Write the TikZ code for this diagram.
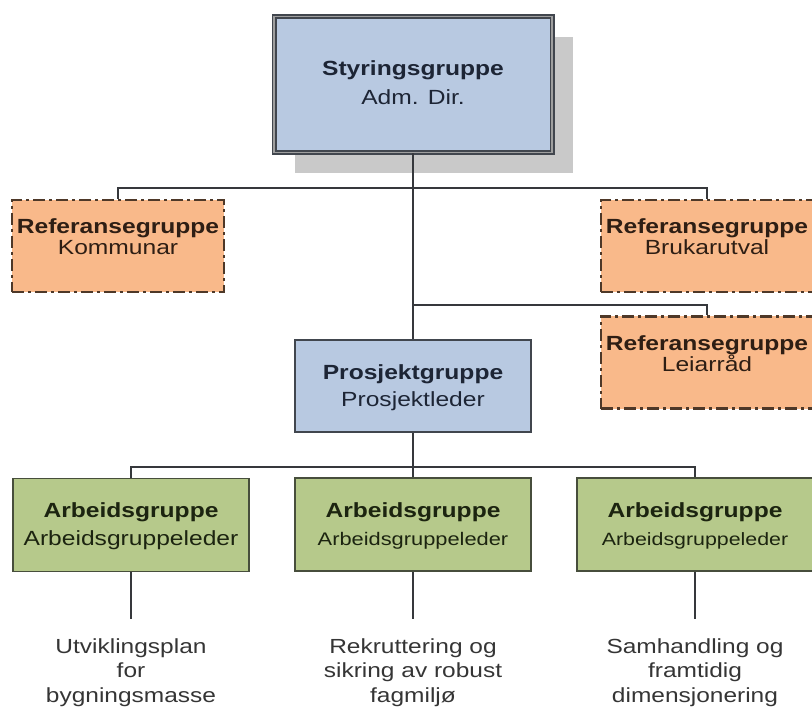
\documentclass[tikz,border=0pt]{standalone}
\usepackage{fontspec}
\setmainfont{Liberation Sans}[FakeStretch=1.2]
\usetikzlibrary{shadows}

\definecolor{bluefill}{HTML}{B8C9E1}
\definecolor{blueline}{HTML}{41464E}
\definecolor{orangefill}{HTML}{F9B98A}
\definecolor{orangeline}{HTML}{4E3828}
\definecolor{greenfill}{HTML}{B6C98B}
\definecolor{greenline}{HTML}{474E3C}
\definecolor{shadowgray}{HTML}{C9C9C9}
\definecolor{wirecol}{HTML}{36383C}
\definecolor{bluetext}{HTML}{1D2535}
\definecolor{orangetext}{HTML}{2E1E14}
\definecolor{greentext}{HTML}{1C2410}
\definecolor{notetext}{HTML}{353535}

\tikzset{
  boxfont/.style={font=\fontsize{20.5pt}{#1}\selectfont},
  headbox/.style={draw=blueline, double=gray!75, line width=1.6pt, double distance=1.8pt,
    fill=bluefill, text=bluetext, minimum width=278pt, minimum height=136pt,
    align=center, inner sep=0pt, text depth=4pt, boxfont=29pt,
    drop shadow={shadow xshift=21pt, shadow yshift=-21pt, fill=shadowgray, opacity=1}},
  bluebox/.style={draw=blueline, line width=1.7pt, fill=bluefill, text=bluetext,
    minimum width=236pt, minimum height=92pt, align=center, inner sep=0pt,
    text depth=0pt, boxfont=27pt},
  refbox/.style={draw=orangeline, line width=2.3pt,
    dash pattern=on 12pt off 4pt on 3pt off 4pt, fill=orangefill, text=orangetext,
    minimum width=212pt, minimum height=92pt, align=center, inner sep=0pt,
    text depth=18pt, boxfont=21pt},
  workbox/.style={draw=greenline, line width=1.7pt, fill=greenfill, text=greentext,
    minimum width=236pt, minimum height=93pt, align=center, inner sep=0pt,
    text depth=#1, boxfont=28pt},
  wire/.style={draw=wirecol, line width=1.8pt},
  note/.style={text=notetext, align=center, anchor=base, inner sep=0pt,
    font=\fontsize{20.4pt}{24.5pt}\selectfont},
}

\begin{document}
\begin{tikzpicture}[x=1pt, y=-1pt]
  \useasboundingbox (0,0) rectangle (812,714);

  % steering group with shadow
  \node[headbox] (sg) at (413,84.5) {\textbf{Styringsgruppe}\\Adm. Dir.};

  % reference groups
  \node[refbox] (refK) at (118,246) {\textbf{Referansegruppe}\\Kommunar};
  \node[refbox] (refB) at (707,246) {\textbf{Referansegruppe}\\Brukarutval};
  \node[refbox] (refL) at (707,362.5) {\textbf{Referansegruppe}\\Leiarråd};

  % project group
  \node[bluebox] (pg) at (413,386) {\textbf{Prosjektgruppe}\\Prosjektleder};

  % working groups
  \node[workbox=1pt] (arb1) at (131,525) {\textbf{Arbeidsgruppe}\\Arbeidsgruppeleder};
  \node[workbox=0pt] (arb2) at (413,524.5) {\textbf{Arbeidsgruppe}\\{\fontsize{18.2pt}{28pt}\selectfont Arbeidsgruppeleder}};
  \node[workbox=0pt] (arb3) at (695,524.5) {\textbf{Arbeidsgruppe}\\{\fontsize{17.8pt}{28pt}\selectfont Arbeidsgruppeleder}};

  % tasks of the working groups (placed by the baseline of the last line)
  \node[note] (t1) at (131,702) {Utviklingsplan\\for\\bygningsmasse};
  \node[note] (t2) at (413,702) {Rekruttering og\\sikring av robust\\fagmiljø};
  \node[note] (t3) at (695,702) {Samhandling og\\framtidig\\dimensjonering};

  % junctions and free ends
  \coordinate (bus1) at (413,188);
  \coordinate (bus2) at (413,305);
  \coordinate (bus3) at (413,467);
  \coordinate (end1) at (131,619);
  \coordinate (end2) at (413,619);
  \coordinate (end3) at (695,619);

  % connectors
  \draw[wire] (sg.south) -- (pg.north);
  \draw[wire] (refK.north) |- (bus1) -| (refB.north);
  \draw[wire] (bus2) -| (refL.north);
  \draw[wire] (pg.south) -- (bus3);
  \draw[wire] (arb1.north) |- (bus3) -| (arb3.north);
  \draw[wire] (bus3) -- (arb2.north);
  \draw[wire] (arb1.south) -- (end1);
  \draw[wire] (arb2.south) -- (end2);
  \draw[wire] (arb3.south) -- (end3);
\end{tikzpicture}
\end{document}
